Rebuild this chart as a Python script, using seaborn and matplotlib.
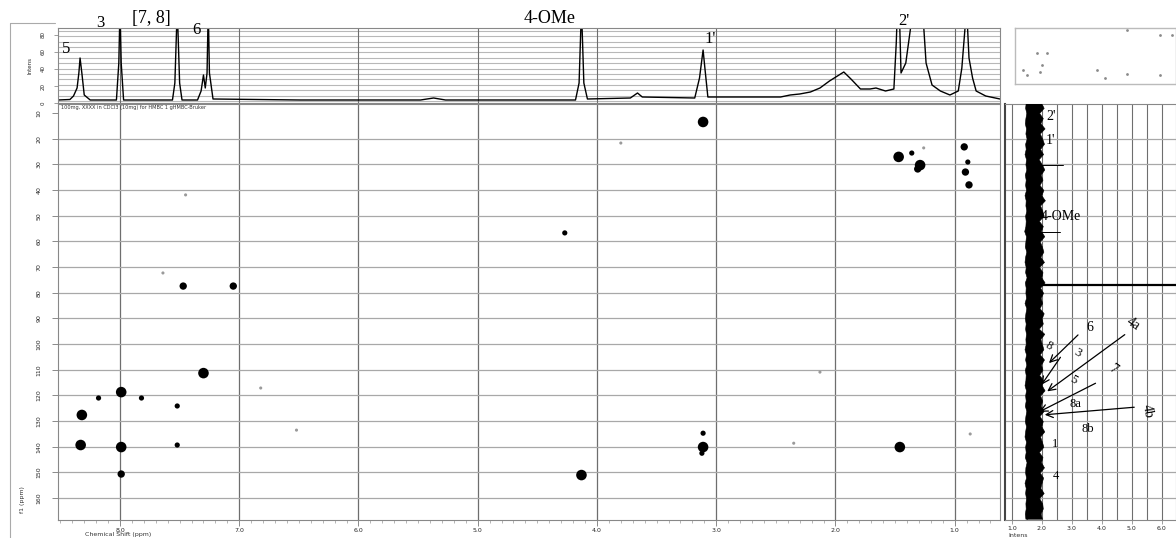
import numpy as np
import pandas as pd
import seaborn as sns
import matplotlib.pyplot as plt
from matplotlib.ticker import MultipleLocator
from matplotlib.patches import FancyArrowPatch

# 1H trace of the top panel (ppm, intensity)
h_ppm = [8.52, 8.42, 8.39, 8.36, 8.345, 8.335, 8.32, 8.30, 8.25, 8.03, 8.01, 8.00, 7.99, 7.97,
         7.56, 7.54, 7.52, 7.50, 7.48, 7.35, 7.32, 7.30, 7.285, 7.27, 7.26, 7.25, 7.22,
         6.49, 5.48, 5.37, 5.27, 4.18, 4.15, 4.13, 4.11, 4.08, 3.72, 3.66, 3.62,
         3.18, 3.14, 3.11, 3.095, 3.07, 2.46, 2.38, 2.30, 2.21, 2.13, 2.05, 1.93, 1.87,
         1.79, 1.71, 1.66, 1.58, 1.51, 1.49, 1.48, 1.465, 1.45, 1.41, 1.37, 1.33, 1.27,
         1.24, 1.19, 1.12, 1.04, 0.97, 0.94, 0.90, 0.88, 0.85, 0.82, 0.74, 0.62]
h_int = [3, 3.5, 7, 15, 30, 45, 30, 8, 3, 3, 40, 95, 40, 3,
         3, 20, 95, 20, 3, 3, 12, 28, 15, 30, 95, 30, 4,
         3, 3, 5, 3, 3, 20, 95, 20, 4, 5, 10, 6,
         5, 25, 53, 35, 6, 6, 8, 9, 11, 15, 22, 31, 24,
         14, 14, 15, 12, 14, 60, 95, 95, 30, 40, 75, 95, 95,
         40, 18, 12, 8, 12, 35, 95, 45, 25, 12, 7, 4]

# HMBC cross peaks: 1H ppm, 13C ppm, strength class (1 faint .. 4 strong)
peak_h = [8.32, 8.33, 8.18, 7.99, 7.99, 7.99, 7.82, 7.52, 7.52, 7.47, 7.05, 7.30,
          7.64, 7.45, 6.82, 6.52, 3.11, 3.80, 4.27, 1.47, 1.36, 1.26, 1.29, 1.31,
          0.92, 0.89, 0.91, 0.88, 4.13, 3.11, 3.11, 3.12, 2.35, 2.13, 1.46, 0.87]
peak_c = [127.6, 139.3, 121.0, 118.7, 140.1, 150.6, 121.0, 124.1, 139.3, 77.4, 77.4, 111.3,
          72.3, 41.9, 117.1, 133.5, 13.5, 21.7, 56.7, 27.1, 25.6, 23.6, 30.3, 31.8,
          23.2, 29.1, 33.0, 38.0, 151.0, 134.7, 140.1, 142.5, 138.6, 110.9, 140.1, 135.0]
peak_level = [4, 4, 2, 4, 4, 3, 2, 2, 2, 3, 3, 4,
              1, 1, 1, 1, 4, 1, 2, 4, 2, 1, 4, 3,
              3, 2, 3, 3, 4, 2, 4, 2, 1, 1, 4, 1]

# 13C projection (right panel): noisy band edges, every 2 ppm
proj_c = list(range(6, 170, 2))
proj_lo = [1.46, 1.44, 1.48, 1.45, 1.43, 1.47, 1.45, 1.49, 1.44, 1.46, 1.42, 1.47, 1.45, 1.48, 1.43, 1.46, 1.44, 1.47, 1.42, 1.46,
           1.45, 1.48, 1.44, 1.46, 1.45, 1.41, 1.47, 1.45, 1.43, 1.48, 1.44, 1.42, 1.46, 1.44, 1.49, 1.43, 1.46, 1.45, 1.47, 1.42,
           1.48, 1.45, 1.43, 1.46, 1.44, 1.47, 1.45, 1.46, 1.42, 1.47, 1.44, 1.48, 1.43, 1.46, 1.45, 1.42, 1.47, 1.44, 1.46, 1.43,
           1.48, 1.45, 1.43, 1.47, 1.44, 1.42, 1.47, 1.44, 1.46, 1.43, 1.49, 1.45, 1.44, 1.47, 1.42, 1.46, 1.44, 1.47, 1.45, 1.46,
           1.43, 1.45]
proj_hi = [1.97, 2.06, 1.91, 2.03, 1.95, 2.09, 1.93, 2.01, 2.07, 1.94, 2.04, 1.89, 2.00, 2.08, 1.96, 2.02, 1.92, 2.05, 1.98, 2.10,
           1.94, 2.01, 2.06, 1.90, 2.03, 1.97, 2.08, 1.93, 2.00, 2.05, 1.95, 2.07, 1.91, 2.02, 1.98, 2.09, 1.94, 2.04, 1.96, 2.01,
           1.92, 2.06, 1.99, 2.03, 1.90, 2.08, 1.95, 2.00, 2.05, 1.93, 2.07, 1.97, 2.02, 1.91, 2.04, 1.99, 2.09, 1.94, 2.01, 1.96,
           2.06, 1.92, 2.03, 1.98, 2.08, 1.94, 2.00, 2.05, 1.90, 2.02, 1.97, 2.07, 1.93, 2.04, 1.99, 1.95, 2.06, 1.91, 2.01, 2.03,
           1.96, 2.00]
spike_c = [77.0, 30.3, 56.4]
spike_x = [6.6, 2.7, 2.6]

# overview box dots (box fractions)
ov_x = [0.696, 0.901, 0.975, 0.137, 0.199, 0.168, 0.050, 0.075, 0.155, 0.559, 0.696, 0.901, 0.509]
ov_y = [0.964, 0.875, 0.875, 0.554, 0.554, 0.339, 0.25, 0.161, 0.214, 0.107, 0.179, 0.161, 0.25]

h_ticks = [8.0, 7.0, 6.0, 5.0, 4.0, 3.0, 2.0, 1.0]
c_ticks = list(range(10, 170, 10))
proj_ticks = [1.0, 2.0, 3.0, 4.0, 5.0, 6.0]

sns.set_style("white")
plt.rcParams['font.family'] = ['DejaVu Sans']

W, H = 1176, 538
fig = plt.figure(figsize=(W / 100, H / 100), dpi=100)


def box(x0, y0, x1, y1):
    return [x0 / W, 1 - y1 / H, (x1 - x0) / W, (y1 - y0) / H]


def ftxt(px, py, s, **kw):
    fig.text(px / W, 1 - py / H, s, **kw)


ax_main = fig.add_axes(box(58, 104, 1000, 520))
ax_top = fig.add_axes(box(58, 28, 1000, 103), sharex=ax_main)
ax_right = fig.add_axes(box(1005, 104, 1176, 520), sharey=ax_main)
ax_ov = fig.add_axes(box(1015, 28, 1176, 84))

grid_v = '#6e6e6e'
grid_h = '#a8a8a8'

# ---- main HMBC map
peaks = pd.DataFrame({"h": peak_h, "c": peak_c, "level": peak_level})
sns.scatterplot(data=peaks, x="h", y="c", size="level", hue="level",
                sizes={1: 5, 2: 14, 3: 28, 4: 58},
                palette={1: '#9a9a9a', 2: 'black', 3: 'black', 4: 'black'},
                linewidth=0, legend=False, ax=ax_main, zorder=3)
ax_main.set_xlim(8.52, 0.62)
ax_main.set_ylim(168.5, 6.5)
ax_main.set_xticks(h_ticks)
ax_main.set_xticklabels([f"{t:.1f}" for t in h_ticks], fontsize=4.5)
ax_main.xaxis.set_minor_locator(MultipleLocator(0.1))
ax_main.set_yticks(c_ticks)
ax_main.set_yticklabels([str(t) for t in c_ticks], fontsize=4.5, rotation=90, va='center')
ax_main.tick_params(axis='y', which='major', left=True, length=4, width=0.6, color='#777777', pad=8)
ax_main.tick_params(axis='x', which='major', bottom=True, length=4, width=0.6, color='#777777', pad=1.5)
ax_main.tick_params(axis='x', which='minor', length=2, width=0.5, color='#999999', bottom=True)
for t in h_ticks:
    ax_main.axvline(t, color=grid_v, lw=0.9, zorder=1)
for t in c_ticks[1:]:
    ax_main.axhline(t, color=grid_h, lw=0.9, zorder=1)
ax_main.set_xlabel("")
ax_main.set_ylabel("")
for s in ax_main.spines.values():
    s.set_color('#888888')
    s.set_linewidth(0.8)
ax_main.text(0.003, 0.997, "100mg, XXXX in CDCl3 (10mg) for HMBC 1 gHMBC-Bruker", transform=ax_main.transAxes,
             fontsize=3.6, va='top', ha='left', color='#333333')

# ---- top 1H trace
sns.lineplot(x=h_ppm, y=h_int, estimator=None, sort=False, color='black', lw=1.0, ax=ax_top)
ax_top.set_ylim(0, 75)
ax_top.set_yticks([0, 17, 34, 51, 68])
ax_top.set_yticklabels(["0", "20", "40", "60", "80"], fontsize=4, rotation=90, va='center')
ax_top.tick_params(axis='y', left=True, length=3, width=0.5, color='#777777', pad=6)
ax_top.tick_params(axis='x', bottom=False, labelbottom=False)
for v in np.arange(2, 75, 5.4):
    ax_top.axhline(v, color='#b8b8b8', lw=0.8, zorder=0)
for t in h_ticks:
    ax_top.axvline(t, color=grid_v, lw=0.8, zorder=0)
for s in ax_top.spines.values():
    s.set_color('#888888')
    s.set_linewidth(0.8)
ax_top.set_ylabel("Intens", fontsize=4, labelpad=6)

# ---- right 13C projection
ax_right.fill_betweenx(proj_c, proj_lo, proj_hi, color='black', lw=0.4, zorder=3)
for c, x in zip(spike_c, spike_x):
    ax_right.plot([1.9, x], [c, c], color='black', lw=1.6 if x > 5 else 0.7, zorder=3)
ax_right.set_xlim(0.77, 6.47)
ax_right.set_xticks(proj_ticks)
ax_right.set_xticklabels([f"{t:.1f}" for t in proj_ticks], fontsize=4.5)
ax_right.tick_params(axis='x', bottom=True, length=3, width=0.5, color='#777777', pad=1.5)
ax_right.tick_params(axis='y', left=False, labelleft=False)
for v in np.arange(1.0, 6.5, 0.5):
    ax_right.axvline(v, color=grid_v, lw=0.8, zorder=1)
for t in c_ticks[1:]:
    ax_right.axhline(t, color=grid_h, lw=0.9, zorder=1)
for s in ax_right.spines.values():
    s.set_color('#888888')
    s.set_linewidth(0.8)
ax_right.spines['left'].set_color('#444444')
ax_right.spines['left'].set_linewidth(1.5)

# ---- overview box
sns.scatterplot(x=ov_x, y=ov_y, s=4, color='#8a8a8a', linewidth=0, ax=ax_ov)
ax_ov.set_xlim(0, 1)
ax_ov.set_ylim(0, 1)
ax_ov.set_xticks([])
ax_ov.set_yticks([])
for s in ax_ov.spines.values():
    s.set_color('#bbbbbb')
    s.set_linewidth(1.0)

# ---- labels
serif = dict(family='Liberation Serif', color='black')
ftxt(62, 53, "5", fontsize=12, **serif)
ftxt(96, 27, "3", fontsize=12, **serif)
ftxt(132, 23, "[7, 8]", fontsize=13, **serif)
ftxt(192, 34, "6", fontsize=12, **serif)
ftxt(524, 23, "4-OMe", fontsize=13, **serif)
ftxt(704, 43, "1'", fontsize=12, **serif)
ftxt(898, 25, "2'", fontsize=12, **serif)

ftxt(1046, 120, "2'", fontsize=10, **serif)
ftxt(1046, 144, "1'", fontsize=10, **serif)
ftxt(1041, 220, "4-OMe", fontsize=10, **serif)
ftxt(1086, 331, "6", fontsize=10, **serif)
ftxt(1124, 330, "4a", fontsize=10, rotation=-35, **serif)
ftxt(1043, 350, "8", fontsize=9, rotation=-30, **serif)
ftxt(1072, 357, "3", fontsize=9, rotation=-30, **serif)
ftxt(1106, 373, "7", fontsize=10, rotation=-35, **serif)
ftxt(1068, 384, "5", fontsize=9, rotation=-30, **serif)
ftxt(1070, 407, "8a", fontsize=9, **serif)
ftxt(1140, 416, "4b", fontsize=10, rotation=-80, **serif)
ftxt(1082, 432, "8b", fontsize=9, **serif)
ftxt(1052, 447, "1", fontsize=9, **serif)
ftxt(1053, 479, "4", fontsize=9, **serif)

arrows = [((1080, 333), (1047, 365)), ((1062, 355), (1040, 387)), ((1127, 333), (1045, 393)),
          ((1098, 382), (1037, 413)), ((1137, 407), (1042, 415))]
for (x0, y0), (x1, y1) in arrows:
    fig.add_artist(FancyArrowPatch(
        (x0 / W, 1 - y0 / H), (x1 / W, 1 - y1 / H), transform=fig.transFigure,
        arrowstyle='->,head_length=5,head_width=2.5', color='black', lw=0.9))

ftxt(20, 500, "f1 (ppm)", fontsize=4.5, rotation=90, va='center', color='#333333')
ftxt(85, 536, "Chemical Shift (ppm)", fontsize=4.5, color='#333333')
ftxt(1008, 537, "Intens", fontsize=4.5, color='#333333')

fig.add_artist(plt.Line2D([10 / W, 10 / W], [0, 1 - 23 / H], transform=fig.transFigure,
                          color='#aaaaaa', lw=0.8))
fig.add_artist(plt.Line2D([10 / W, 55 / W], [1 - 23 / H, 1 - 23 / H], transform=fig.transFigure,
                          color='#aaaaaa', lw=0.8))

fig.savefig("out.png", dpi=100)
